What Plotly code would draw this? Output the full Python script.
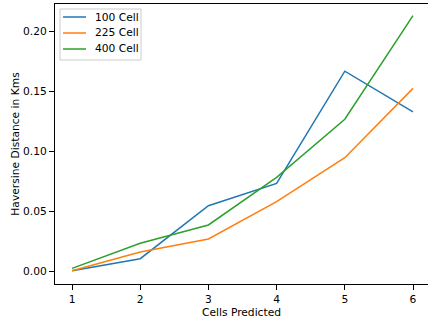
import plotly.graph_objects as go

cells_predicted = [1, 2, 3, 4, 5, 6]
dist_100 = [0.0003, 0.0103, 0.0544, 0.0730, 0.1665, 0.1327]
dist_225 = [0.0002, 0.0158, 0.0267, 0.0578, 0.0944, 0.1522]
dist_400 = [0.0022, 0.0231, 0.0384, 0.0780, 0.1265, 0.2128]

series_names = ["100 Cell", "225 Cell", "400 Cell"]
series_values = [dist_100, dist_225, dist_400]
series_colors = ["#1f77b4", "#ff7f0e", "#2ca02c"]

x_ticks = [1, 2, 3, 4, 5, 6]
y_ticks = [0.0, 0.05, 0.10, 0.15, 0.20]
y_tick_text = ["0.00", "0.05", "0.10", "0.15", "0.20"]

W, H = 428, 321
ML, MR, MT, MB = 55, 0, 4, 37
PW, PH = W - ML - MR, H - MT - MB


def px_x(p):
    return (p - ML) / PW


def px_y(p):
    return 1 - (p - MT) / PH


fig = go.Figure()
for name, vals, color in zip(series_names, series_values, series_colors):
    fig.add_trace(go.Scatter(
        x=cells_predicted, y=vals, mode="lines", name=name,
        line=dict(color=color, width=1.5), showlegend=False,
    ))

font = dict(family="DejaVu Sans", size=10.7, color="#000000")

# legend box in the upper-left corner of the axes
shapes = [dict(
    type="rect", xref="paper", yref="paper",
    x0=px_x(60), x1=px_x(141), y0=px_y(60), y1=px_y(9),
    line=dict(color="#cccccc", width=1), fillcolor="rgba(255,255,255,0.8)",
    layer="above",
)]
annotations = []
for i, (name, color) in enumerate(zip(series_names, series_colors)):
    yy = 17 + 16 * i
    shapes.append(dict(
        type="line", xref="paper", yref="paper",
        x0=px_x(63), x1=px_x(86), y0=px_y(yy), y1=px_y(yy),
        line=dict(color=color, width=1.5), layer="above",
    ))
    annotations.append(dict(
        xref="paper", yref="paper", x=px_x(93), y=px_y(yy),
        xanchor="left", yanchor="middle", text=name, showarrow=False,
        font=font,
    ))

fig.update_layout(
    width=W, height=H,
    margin=dict(l=ML, r=MR, t=MT, b=MB),
    paper_bgcolor="white", plot_bgcolor="white",
    font=font,
    showlegend=False,
    shapes=shapes,
    annotations=annotations,
    xaxis=dict(
        range=[0.75, 6.22], tickvals=x_ticks,
        showgrid=False, zeroline=False,
        showline=True, linecolor="#000000", linewidth=1, mirror=True,
        ticks="outside", ticklen=5, tickcolor="#000000", tickwidth=1,
        title=dict(text="Cells Predicted", font=font, standoff=2),
    ),
    yaxis=dict(
        range=[-0.0108, 0.2225], tickvals=y_ticks, ticktext=y_tick_text,
        showgrid=False, zeroline=False,
        showline=True, linecolor="#000000", linewidth=1,
        ticks="outside", ticklen=5, tickcolor="#000000", tickwidth=1,
        title=dict(text="Haversine Distance in Kms", font=font, standoff=1),
    ),
)

fig.write_html("out.html")
